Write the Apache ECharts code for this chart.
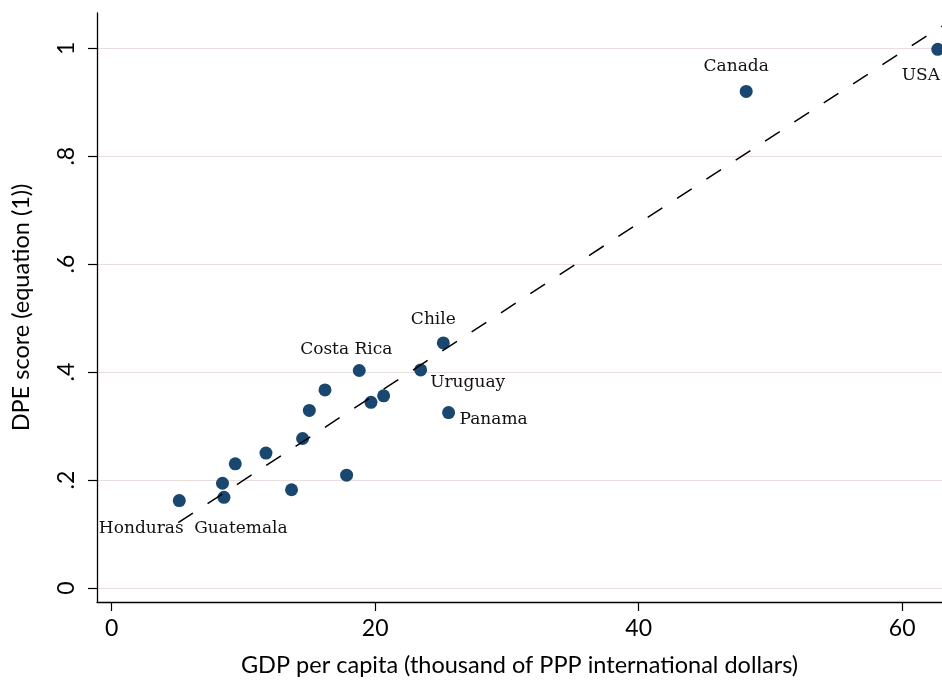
<!DOCTYPE html>
<html>
<head>
<meta charset="utf-8">
<script src="https://cdn.jsdelivr.net/npm/echarts@6/dist/echarts.min.js"></script>
<style>
html,body{margin:0;padding:0;background:#fff;}
#chart{width:942px;height:682px;}
</style>
</head>
<body>
<div id="chart"></div>
<script>
// ---- data ----
const names = ['Honduras','','Guatemala','','','','','','','','Costa Rica','','','Uruguay','Chile','Panama','Canada','USA'];
const gdp   = [5.13, 8.41, 8.52, 9.38, 11.71, 13.65, 14.49, 15.00, 16.19, 17.83, 18.79, 19.68, 20.64, 23.45, 25.17, 25.57, 48.16, 62.70];
const dpe   = [0.162, 0.194, 0.168, 0.230, 0.250, 0.182, 0.277, 0.329, 0.367, 0.209, 0.403, 0.344, 0.356, 0.404, 0.454, 0.325, 0.920, 0.998];
const fitX  = [5.05, 63.0];
const fitY  = [0.121, 1.041];
const xTicks = [0, 20, 40, 60];
const yTicks = [0, 0.2, 0.4, 0.6, 0.8, 1];
const xTitle = 'GDP per capita (thousand of PPP international dollars)';
const yTitle = 'DPE score (equation (1))';

// ---- label placement (layout, not data) ----
const labelOffsets = {
  'Honduras':   [-38, 28],
  'Guatemala':  [17, 31],
  'Costa Rica': [-13, -21],
  'Uruguay':    [47, 13],
  'Chile':      [-10, -23],
  'Panama':     [45, 7],
  'Canada':     [-10, -25],
  'USA':        [-17, 26]
};

const sans = 'Lato';
const serif = 'DejaVu Serif';

const points = gdp.map((x, i) => {
  const item = { value: [x, dpe[i]], name: names[i] };
  if (names[i]) {
    item.label = {
      show: true,
      position: 'inside',
      offset: labelOffsets[names[i]],
      formatter: '{b}',
      align: 'center',
      verticalAlign: 'middle',
      color: '#111',
      fontFamily: serif,
      fontSize: 17
    };
  }
  return item;
});

const fmtY = v => {
  if (Math.abs(v) < 1e-9) return '0';
  if (Math.abs(v - 1) < 1e-9) return '1';
  return String(Math.round(v * 10) / 10).replace(/^0/, '');
};

const chart = echarts.init(document.getElementById('chart'), null, { renderer: 'canvas' });
chart.setOption({
  backgroundColor: '#ffffff',
  animation: false,
  grid: { left: 97, right: 0, top: 13, bottom: 80, containLabel: false },
  xAxis: {
    type: 'value',
    min: -1.115, max: 63.02,
    name: xTitle,
    nameLocation: 'middle',
    nameGap: 51,
    nameTextStyle: { fontFamily: sans, fontSize: 23.5, color: '#000' },
    axisLine: { show: true, onZero: false, lineStyle: { color: '#000', width: 1.3 } },
    axisTick: { show: true, customValues: xTicks, length: 9, lineStyle: { color: '#000', width: 1.2 } },
    axisLabel: { customValues: xTicks, margin: 15, fontFamily: sans, fontSize: 23, color: '#000' },
    splitLine: { show: false }
  },
  yAxis: {
    type: 'value',
    min: -0.026, max: 1.0654,
    name: yTitle,
    nameLocation: 'middle',
    nameRotate: 90,
    nameGap: 64,
    nameTextStyle: { fontFamily: sans, fontSize: 23.5, color: '#000' },
    axisLine: { show: true, onZero: false, lineStyle: { color: '#000', width: 1.3 } },
    axisTick: { show: true, customValues: yTicks, length: 9, lineStyle: { color: '#000', width: 1.2 } },
    axisLabel: { customValues: yTicks, rotate: 90, margin: 19, fontFamily: sans, fontSize: 23, color: '#000', formatter: fmtY },
    splitLine: { show: true, lineStyle: { color: '#e8dedb', width: 1.2 } }
  },
  series: [
    {
      type: 'scatter',
      data: points,
      symbol: 'circle',
      symbolSize: 13,
      itemStyle: { color: '#1a476f', opacity: 1 },
      z: 2
    },
    {
      type: 'line',
      data: fitX.map((x, i) => [x, fitY[i]]),
      showSymbol: false,
      symbol: 'none',
      lineStyle: { color: '#000', width: 1.5, type: [17.5, 17.5] },
      z: 3
    }
  ]
});
</script>
</body>
</html>
